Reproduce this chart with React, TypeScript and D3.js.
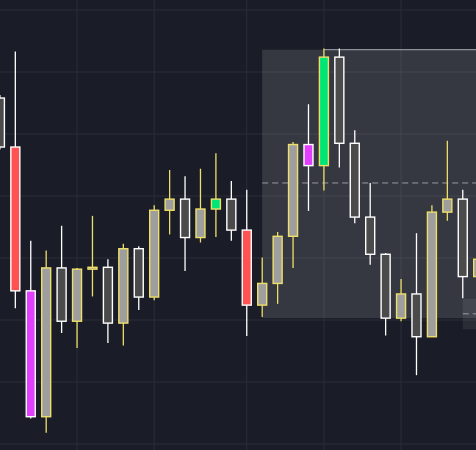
import React from "react";
import * as d3 from "d3";

const W = 476;
const H = 450;

const opens = [155.8, 147.9, 124.7, 104.4, 128.4, 119.8, 128.2, 128.5, 119.5, 131.5, 123.7, 137.7, 139.5, 133.3, 137.9, 139.5, 134.5, 122.4, 125.9, 133.5, 148.3, 144.9, 162.4, 148.5, 136.6, 130.6, 120.3, 124.2, 117.3, 137.4, 139.5, 127.0];
const highs = [156.3, 163.3, 132.8, 131.2, 135.2, 128.4, 136.8, 129.8, 132.3, 131.9, 138.5, 144.2, 143.2, 144.4, 146.9, 142.4, 141.0, 130.1, 134.2, 148.7, 154.8, 163.8, 163.8, 150.6, 142.1, 130.8, 126.6, 134.0, 138.5, 148.9, 141.0, 131.0];
const lows = [147.5, 121.9, 104.1, 101.8, 117.9, 115.5, 123.8, 116.3, 115.9, 121.6, 123.2, 133.8, 127.9, 132.5, 133.4, 132.8, 117.4, 120.5, 122.6, 128.4, 137.6, 140.9, 144.6, 135.6, 128.9, 117.5, 119.8, 111.1, 117.3, 136.0, 123.5, 126.5];
const closes = [147.9, 124.7, 104.4, 128.4, 119.8, 128.2, 128.5, 119.5, 131.5, 123.7, 137.7, 139.5, 133.3, 137.9, 139.5, 134.5, 122.4, 125.9, 133.5, 148.3, 144.9, 162.4, 148.5, 136.6, 130.6, 120.3, 124.2, 117.3, 137.4, 139.5, 127.0, 129.8];
const signals = ["", "red", "magenta", "", "", "", "", "", "", "", "", "", "", "", "green", "", "red", "", "", "", "magenta", "green", "", "", "", "", "", "", "", "", "", ""];

const priceTicks = [100, 110, 120, 130, 140, 150, 160, 170];
const timeGridIdx = [5, 10, 16, 21, 26];

// zones: [startIdx, topPrice, bottomPrice, midPrice, topLineStartIdx]
const zoneStart = [17, 30];
const zoneTop = [163.6, 123.4];
const zoneBottom = [120.3, 118.5];
const zoneMid = [142.1, 121.0];
const zoneFill = ["rgba(255,255,255,0.12)", "rgba(255,255,255,0.07)"];
const zoneTopLineStart = 21;

const BG = "#1a1d27";
const GRID = "#2a2e39";
const YELLOW = "#eedf6a";
const WHITE = "#ffffff";
const LIGHT = "#9e9e9e";
const DARK = "#4b4b4b";
const SIG: Record<string, string> = { red: "#ff5252", magenta: "#e040fb", green: "#00e676" };

export default function App() {
  const x = d3.scaleLinear().domain([0, 31]).range([-0.1, 478.2]);
  const y = d3.scaleLinear().domain([100, 170]).range([444, 10]);
  const bw = 9;

  return (
    <svg
      width={W}
      height={H}
      style={{ position: "absolute", left: 0, top: 0, display: "block" }}
    >
      <rect x={0} y={0} width={W} height={H} fill={BG} />
      {priceTicks.map((p) => (
        <line key={"h" + p} x1={0} x2={W} y1={y(p)} y2={y(p)} stroke={GRID} strokeWidth={1} />
      ))}
      {timeGridIdx.map((i) => (
        <line key={"v" + i} x1={x(i)} x2={x(i)} y1={0} y2={H} stroke={GRID} strokeWidth={1} />
      ))}
      {zoneStart.map((s, k) => (
        <g key={"z" + k}>
          <rect
            x={x(s)}
            y={y(zoneTop[k])}
            width={W - x(s) + 5}
            height={y(zoneBottom[k]) - y(zoneTop[k])}
            fill={zoneFill[k]}
          />
          <line
            x1={x(s)}
            x2={W + 5}
            y1={y(zoneMid[k])}
            y2={y(zoneMid[k])}
            stroke="#9a9ca3"
            strokeWidth={1}
            strokeDasharray="6,4"
          />
        </g>
      ))}
      <line
        x1={x(zoneTopLineStart)}
        x2={W + 5}
        y1={y(zoneTop[0])}
        y2={y(zoneTop[0])}
        stroke="#8c8f97"
        strokeWidth={1.2}
      />
      {opens.map((o, i) => {
        const c = closes[i];
        const up = c >= o;
        const border = up ? YELLOW : WHITE;
        const fill = signals[i] ? SIG[signals[i]] : up ? LIGHT : DARK;
        const cx = x(i);
        const top = y(Math.max(o, c));
        const bot = y(Math.min(o, c));
        return (
          <g key={"c" + i}>
            <line x1={cx} x2={cx} y1={y(highs[i])} y2={y(lows[i])} stroke={border} strokeWidth={1.3} />
            <rect
              x={cx - bw / 2}
              y={top}
              width={bw}
              height={Math.max(bot - top, 1.5)}
              fill={fill}
              stroke={border}
              strokeWidth={1.4}
            />
          </g>
        );
      })}
    </svg>
  );
}
